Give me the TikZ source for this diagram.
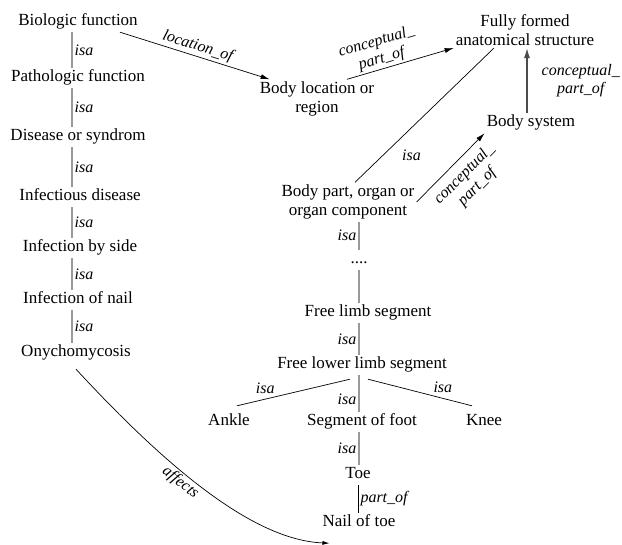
\documentclass[tikz,border=0pt]{standalone}
\usepackage{fontspec}
\setmainfont{Liberation Serif}
\usetikzlibrary{arrows.meta}

\begin{document}
\begin{tikzpicture}[x=1pt,y=-1pt,
    term/.style={font=\fontsize{17}{20}\selectfont, inner sep=2pt, text height=12pt, text depth=4pt},
    term2/.style={font=\fontsize{17}{19.5}\selectfont, inner sep=2pt, align=center},
    rel/.style={font=\fontsize{16}{18}\selectfont\itshape, inner sep=2pt, text=black},
    isaline/.style={color=black!40, line width=1.2pt},
    plain/.style={color=black, line width=0.7pt},
    partarrow/.style={color=black, line width=0.7pt, -{Latex[length=9pt,width=5pt]}},
    thickarrow/.style={color=black!70, line width=1.3pt, -{Latex[length=10pt,width=6pt]}}]
        \useasboundingbox (0,0) rectangle (622,545);

        % disease chain
        \node[term] (bio)     at (78,22)  {Biologic function};
        \node[term] (patho)   at (78,78)  {Pathologic function};
        \node[term] (disease) at (78,137) {Disease or syndrom};
        \node[term] (infect)  at (80,197) {Infectious disease};
        \node[term] (side)    at (80,248) {Infection by side};
        \node[term] (nail)    at (78,300) {Infection of nail};
        \node[term] (onycho)  at (76,353) {Onychomycosis};

        % anatomy
        \node[term2] (full)  at (525,30)  {Fully formed\\anatomical structure};
        \node[term2] (loc)   at (317,99)  {Body location or\\region};
        \node[term]  (bsys)  at (531,123) {Body system};
        \node[term2] (bpart) at (348,202) {Body part, organ or\\organ component};
        \node[term]  (dots)  at (359,260) {....};
        \node[term]  (flimb) at (368,313) {Free limb segment};
        \node[term]  (flower) at (362,365) {Free lower limb segment};
        \node[term]  (ankle) at (229,422) {Ankle};
        \node[term]  (sfoot) at (362,422) {Segment of foot};
        \node[term]  (knee)  at (484,422) {Knee};
        \node[term]  (toe)   at (358,475) {Toe};
        \node[term]  (ntoe)  at (359,523) {Nail of toe};

        \coordinate (lcol) at (72,0);
        \coordinate (mcol) at (359,0);
        \coordinate (rcol) at (527,0);

        \path [isaline] (bio.south -| lcol)     edge node[rel,right] {isa} (patho.north -| lcol);
        \path [isaline] (patho.south -| lcol)   edge node[rel,right] {isa} (disease.north -| lcol);
        \path [isaline] (disease.south -| lcol) edge node[rel,right] {isa} (infect.north -| lcol);
        \path [isaline] (infect.south -| lcol)  edge node[rel,right] {isa} (side.north -| lcol);
        \path [isaline] (side.south -| lcol)    edge node[rel,right] {isa} (nail.north -| lcol);
        \path [isaline] (nail.south -| lcol)    edge node[rel,right] {isa} (onycho.north -| lcol);

        \path [partarrow] ([xshift=-20pt]bio.south east) edge node[rel,above,sloped] {location\_of} ([xshift=12pt]loc.north west);
        \path [partarrow] ([xshift=30pt]loc.north) edge node[rel,above,sloped,pos=0.35,align=center] {conceptual\_\\part\_of} (full.south west);
        \path [thickarrow] (bsys.north -| rcol) edge node[rel,right=12pt,align=center] {conceptual\_\\part\_of} (full.south -| rcol);
        \path [plain] ([xshift=7pt]bpart.north) edge node[rel,pos=0.2,right=17pt] {isa} ([xshift=-31pt]full.south);
        \path [partarrow] (bpart.east) edge node[rel,below=5pt,sloped,pos=0.55,align=center] {conceptual\_\\part\_of} (bsys.south west);

        \path [isaline] (bpart.south -| mcol)  edge node[rel,left] {isa} (dots.north -| mcol);
        \path [isaline] (dots.south -| mcol)   edge (flimb.north -| mcol);
        \path [isaline] (flimb.south -| mcol)  edge node[rel,left] {isa} (flower.north -| mcol);
        \path [isaline] (flower.south -| mcol) edge node[rel,left,pos=0.65] {isa} (sfoot.north -| mcol);
        \path [isaline] (sfoot.south -| mcol)  edge node[rel,left] {isa} (toe.north -| mcol);
        \path [plain] ([xshift=-12pt,yshift=-4pt]flower.south) edge node[rel,pos=0.75,above=3pt] {isa} ([xshift=8pt,yshift=6pt]ankle.north);
        \path [plain] ([xshift=6pt,yshift=-4pt]flower.south) edge node[rel,pos=0.72,above=3pt] {isa} ([xshift=-12pt,yshift=6pt]knee.north);
        \path [plain,line width=1pt] (toe.south) edge node[rel,right] {part\_of} (toe.south |- ntoe.north);

        \draw [plain,-{Latex[length=7pt,width=4pt]}] ([yshift=-6pt]onycho.south) .. controls (160,460) and (250,540) .. ([xshift=9pt,yshift=-10pt]ntoe.south west) node[rel,sloped,below,pos=0.43] {affects};
    \end{tikzpicture}
\end{document}
